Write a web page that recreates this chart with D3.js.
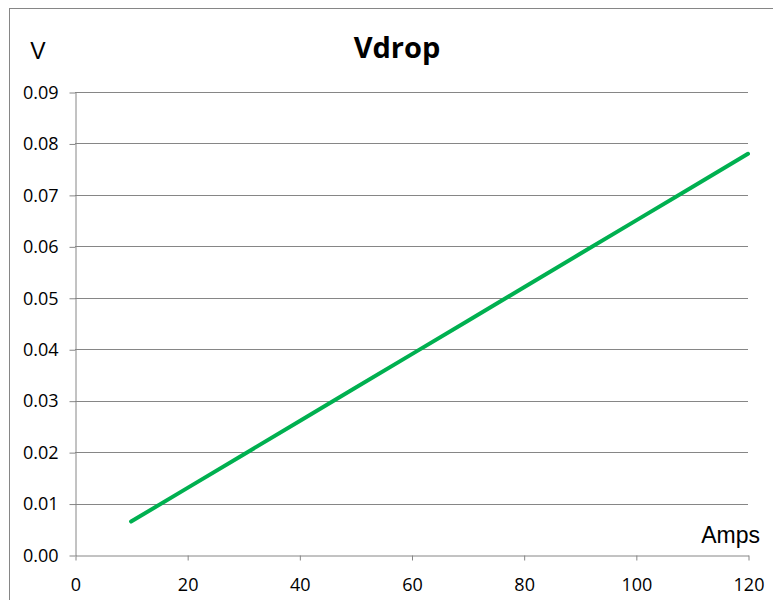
<!DOCTYPE html>
<html>
<head>
<meta charset="utf-8">
<script src="https://cdn.jsdelivr.net/npm/d3@7"></script>
<style>
  body { margin: 0; background: #fff; }
  svg { display: block; }
  .tick text { font-family: "Open Sans", sans-serif; font-size: 18px; fill: #000; }
</style>
</head>
<body>
<svg id="chart" width="773" height="600"></svg>
<script>
// chart data
var amps = [10, 20, 30, 40, 50, 60, 70, 80, 90, 100, 110, 120];
var vdrop = [0.0065, 0.013, 0.0195, 0.026, 0.0325, 0.039, 0.0455, 0.052, 0.0585, 0.065, 0.0715, 0.078];
var xTicks = [0, 20, 40, 60, 80, 100, 120];
var yTicks = [0, 0.01, 0.02, 0.03, 0.04, 0.05, 0.06, 0.07, 0.08, 0.09];

var svg = d3.select('svg#chart');
var grey = '#868686';

// outer chart border, runs off the page on the right and bottom
svg.append('rect')
    .attr('x', 9.5).attr('y', 8.5)
    .attr('width', 800).attr('height', 620)
    .attr('fill', 'none')
    .attr('stroke', grey);

var plot = {left: 75, right: 748, top: 92, bottom: 555};

var x = d3.scaleLinear().domain([0, 120]).range([plot.left, plot.right]);
var y = d3.scaleLinear().domain([0, 0.09]).range([plot.bottom, plot.top]);

// horizontal gridlines
svg.append('g')
    .selectAll('line')
    .data(yTicks.slice(1))
    .enter().append('line')
    .attr('x1', plot.left).attr('x2', plot.right)
    .attr('y1', d => Math.round(y(d)) + 0.5)
    .attr('y2', d => Math.round(y(d)) + 0.5)
    .attr('stroke', grey);

var yAxis = d3.axisLeft(y)
    .tickValues(yTicks)
    .tickFormat(d3.format('.2f'))
    .tickSize(6)
    .tickPadding(11)
    .tickSizeOuter(0);

var xAxis = d3.axisBottom(x)
    .tickValues(xTicks)
    .tickSize(5)
    .tickPadding(18)
    .tickSizeOuter(0);

var gY = svg.append('g')
    .attr('transform', 'translate(' + (plot.left + 0.5) + ',0.5)')
    .call(yAxis);
var gX = svg.append('g')
    .attr('transform', 'translate(0.5,' + (plot.bottom + 0.5) + ')')
    .call(xAxis);

[gX, gY].forEach(function(g) {
    g.selectAll('path, line').attr('stroke', grey);
});

// the series
var valueline = d3.line()
    .x((d, i) => x(amps[i]))
    .y(d => y(d));

svg.append('path')
    .datum(vdrop)
    .attr('d', valueline)
    .attr('fill', 'none')
    .attr('stroke', '#00B050')
    .attr('stroke-width', 4)
    .attr('stroke-linecap', 'round');

// titles
svg.append('text')
    .attr('x', 397).attr('y', 58)
    .attr('text-anchor', 'middle')
    .style('font-family', '"Open Sans", sans-serif')
    .style('font-weight', 'bold')
    .style('font-size', '29px')
    .text('Vdrop');

svg.append('text')
    .attr('x', 38).attr('y', 59)
    .attr('text-anchor', 'middle')
    .style('font-family', '"Liberation Sans", Arial, sans-serif')
    .style('font-size', '23px')
    .text('V');

svg.append('text')
    .attr('x', 760).attr('y', 543)
    .attr('text-anchor', 'end')
    .style('font-family', '"Liberation Sans", Arial, sans-serif')
    .style('font-size', '23px')
    .text('Amps');
</script>
</body>
</html>
